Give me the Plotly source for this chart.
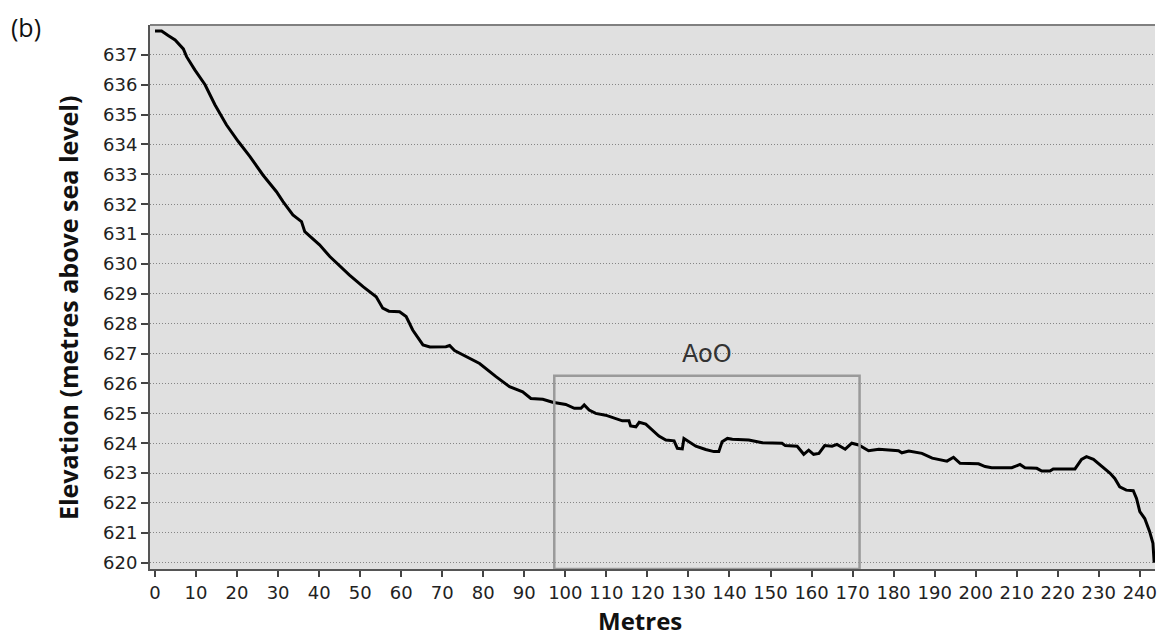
import plotly.graph_objects as go

# Elevation profile along the transect
distance_m = [
    0, 1.6, 3.2, 4.9, 6.9, 7.7, 9.7, 12.2, 14.6, 17.4, 20.3, 23.1, 26.3, 29.6,
    31.2, 33.6, 35.7, 36.5, 40.1, 42.6, 47.4, 50.7, 53.9, 55.5, 57.0, 59.6,
    61.2, 62.8, 65.3, 67.0, 70.9, 71.8, 73.0, 75.0, 79.1, 83.1, 86.4, 89.6,
    91.6, 94.5, 96.9, 100.1, 102.2, 103.8, 104.6, 105.8, 107.4, 109.8, 111.9,
    113.9, 115.5, 115.9, 117.2, 118.0, 119.6, 121.2, 122.8, 124.5, 126.5,
    127.3, 128.5, 128.9, 130.1, 131.8, 134.2, 136.2, 137.4, 138.2, 139.5,
    140.7, 144.7, 148.0, 152.8, 153.6, 156.5, 158.1, 159.3, 160.5, 161.8,
    163.2, 165.0, 166.2, 168.2, 169.8, 171.5, 173.9, 176.4, 181.2, 182.0,
    183.7, 186.9, 189.4, 193.0, 194.6, 196.2, 200.7, 202.3, 203.9, 208.8,
    210.8, 212.0, 214.9, 216.1, 218.1, 218.9, 224.2, 225.8, 227.0, 228.7,
    230.7, 232.7, 233.9, 235.1, 236.7, 238.4, 239.2, 240.0, 241.2, 242.4,
    243.2, 243.5,
]
elevation_m = [
    637.8, 637.8, 637.65, 637.5, 637.2, 636.94, 636.5, 636.0, 635.33, 634.66,
    634.1, 633.6, 632.98, 632.42, 632.09, 631.64, 631.42, 631.08, 630.64,
    630.25, 629.63, 629.24, 628.9, 628.52, 628.42, 628.4, 628.24, 627.79,
    627.29, 627.22, 627.23, 627.27, 627.1, 626.95, 626.67, 626.23, 625.89,
    625.72, 625.5, 625.47, 625.37, 625.3, 625.17, 625.17, 625.28, 625.11,
    625.0, 624.94, 624.83, 624.75, 624.75, 624.58, 624.55, 624.7, 624.64,
    624.44, 624.24, 624.11, 624.08, 623.83, 623.81, 624.16, 624.05, 623.9,
    623.79, 623.72, 623.72, 624.05, 624.16, 624.13, 624.11, 624.02, 624.0,
    623.92, 623.9, 623.63, 623.77, 623.63, 623.66, 623.92, 623.9, 623.96,
    623.8, 624.0, 623.94, 623.75, 623.8, 623.75, 623.68, 623.74, 623.66,
    623.5, 623.4, 623.53, 623.33, 623.31, 623.22, 623.18, 623.18, 623.29,
    623.18, 623.16, 623.07, 623.07, 623.14, 623.14, 623.46, 623.55, 623.46,
    623.22, 623.0, 622.82, 622.54, 622.43, 622.41, 622.15, 621.71, 621.48,
    621.04, 620.65, 620.0,
]

# Area of observation (AoO) extent
aoo_x = [97.3, 171.7]
aoo_top = 626.26
aoo_label = "AoO"

x_ticks = list(range(0, 241, 10))
y_ticks = list(range(620, 638))

x_range = [-1.22, 243.7]
y_range = [619.79, 638.0]

tick_font = dict(family="DejaVu Sans", size=18, color="#222222")

fig = go.Figure()
fig.add_trace(go.Scatter(
    x=distance_m, y=elevation_m, mode="lines",
    line=dict(color="black", width=3),
    showlegend=False, hoverinfo="skip",
))

fig.update_layout(
    width=1157, height=640,
    margin=dict(l=150, r=0, t=25, b=71),
    paper_bgcolor="white",
    plot_bgcolor="#e0e0e0",
    xaxis=dict(
        range=x_range, tickvals=x_ticks, ticktext=[str(v) for v in x_ticks],
        showgrid=False, zeroline=False,
        showline=True, linecolor="#555555", linewidth=2,
        ticks="outside", ticklen=6, tickwidth=2, tickcolor="#444444",
        tickfont=tick_font, ticklabeloverflow="allow",
    ),
    yaxis=dict(
        range=y_range, tickvals=y_ticks, ticktext=[str(v) for v in y_ticks],
        showgrid=True, gridcolor="#858585", gridwidth=1, griddash="1px,2px",
        zeroline=False,
        showline=True, linecolor="#555555", linewidth=2,
        ticks="outside", ticklen=7, tickwidth=2, tickcolor="#444444",
        tickfont=tick_font,
    ),
    shapes=[
        # top border of plot area
        dict(type="line", xref="paper", yref="paper", x0=0, x1=1, y0=1, y1=1,
             line=dict(color="#808080", width=2)),
        # AoO box
        dict(type="rect", xref="x", yref="y",
             x0=aoo_x[0], x1=aoo_x[1], y0=y_range[0], y1=aoo_top,
             line=dict(color="#9a9a9a", width=2.5), layer="above"),
    ],
    annotations=[
        dict(text=aoo_label, x=(aoo_x[0] + aoo_x[1]) / 2, y=aoo_top,
             xref="x", yref="y", yanchor="bottom", yshift=6, showarrow=False,
             font=dict(family="DejaVu Sans", size=24, color="#333333")),
        dict(text="<b>Metres</b>", x=0.4876, y=-0.1287, xref="paper",
             yref="paper", xanchor="center", yanchor="bottom", showarrow=False,
             font=dict(family="Open Sans", size=24, color="#111111")),
        dict(text="<b>Elevation (metres above sea level)</b>", x=-0.0814,
             y=0.48, xref="paper", yref="paper", xanchor="center",
             yanchor="middle", textangle=-90, showarrow=False,
             font=dict(family="Open Sans", size=25, color="#111111")),
        dict(text="(b)", x=-0.123, y=0.996, xref="paper", yref="paper",
             xanchor="center", yanchor="middle", showarrow=False,
             font=dict(family="Open Sans", size=25, color="#111111")),
    ],
)

fig.write_html("out.html")
